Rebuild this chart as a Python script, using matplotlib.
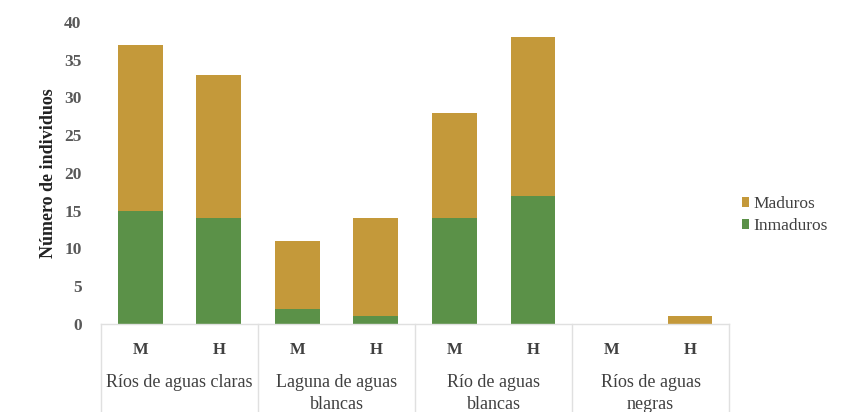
import matplotlib
matplotlib.use("Agg")
import matplotlib.pyplot as plt
import numpy as np

# Data
grupos = ["Ríos de aguas claras", "Laguna de aguas\nblancas", "Río de aguas\nblancas", "Ríos de aguas\nnegras"]
sexos = ["M", "H"]
inmaduros = [15, 14, 2, 1, 14, 17, 0, 0]
maduros = [22, 19, 9, 13, 14, 21, 0, 1]
yticks = [0, 5, 10, 15, 20, 25, 30, 35, 40]

c_mad = "#C4993A"
c_inm = "#5B9148"
txt = "#404040"
serif = ["Liberation Serif", "DejaVu Serif"]

fig = plt.figure(figsize=(8.42, 4.12), dpi=100)
ax = fig.add_axes([0.120, 0.2136, 0.746, 0.733])

x = np.arange(len(inmaduros))
w = 0.57
ax.bar(x, inmaduros, w, color=c_inm, label="Inmaduros", zorder=2)
ax.bar(x, maduros, w, bottom=inmaduros, color=c_mad, label="Maduros", zorder=2)

ax.set_xlim(-0.5, len(x) - 0.5)
ax.set_ylim(0, 40)
ax.set_yticks(yticks)
ax.set_yticklabels([str(t) for t in yticks], fontfamily=serif, fontweight="bold",
                   fontsize=12.5, color="#595959")
ax.tick_params(axis="y", length=0, pad=14)
ax.set_xticks([])
for s in ["top", "right", "left"]:
    ax.spines[s].set_visible(False)
ax.spines["bottom"].set_color("#E0E0E0")
ax.spines["bottom"].set_linewidth(1.0)

ax.set_ylabel("Número de individuos", fontfamily=serif, fontweight="bold",
              fontsize=13, color="#222222", labelpad=5)

# Category axis: M/H labels, group names and separators
trans = ax.get_xaxis_transform()
for i in x:
    ax.text(i, -0.085, sexos[i % 2], transform=trans, ha="center", va="center",
            fontfamily=serif, fontweight="bold", fontsize=12, color=txt)
for g, name in enumerate(grupos):
    ax.text(2 * g + 0.5, -0.165, name, transform=trans, ha="center", va="top",
            fontfamily=serif, fontsize=13, color=txt, linespacing=1.4)
for b in np.arange(-0.5, len(x), 2):
    ax.plot([b, b], [0, -0.32], transform=trans, color="#E0E0E0", lw=1.0,
            clip_on=False)

handles, labels = ax.get_legend_handles_labels()
leg = ax.legend(handles[::-1], labels[::-1], loc="center left",
                bbox_to_anchor=(0.995, 0.36), frameon=False,
                prop={"family": serif, "size": 12.5},
                handlelength=0.45, handleheight=0.45, handletextpad=0.25,
                labelspacing=0.35)
for t in leg.get_texts():
    t.set_color(txt)

fig.savefig("out.png", dpi=100)
